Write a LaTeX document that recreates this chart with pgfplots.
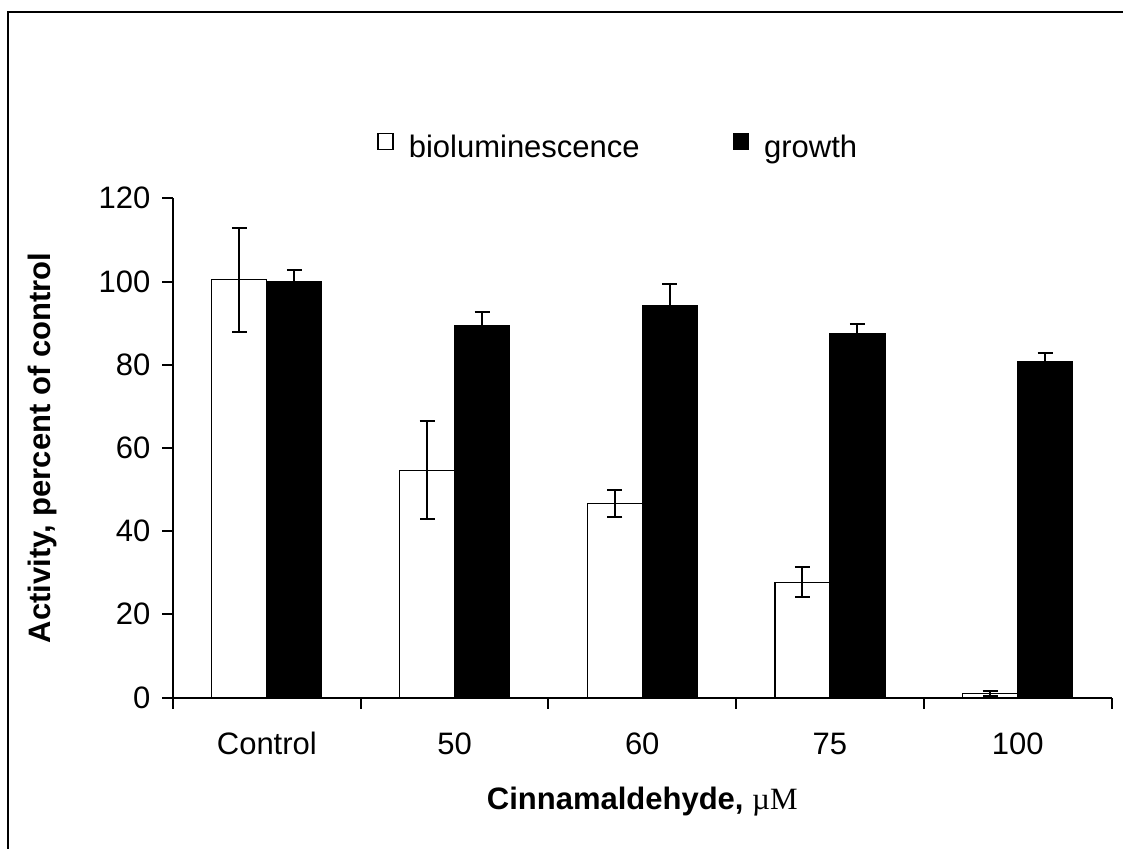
\documentclass[border=0pt]{standalone}
\usepackage{fontspec}
\setmainfont{Liberation Sans}
\newfontfamily\seriffont{Liberation Serif}
\usepackage{pgfplots}
\pgfplotsset{compat=1.18}

\begin{document}
\begin{tikzpicture}[font=\fontsize{15.5}{18}\selectfont]
\useasboundingbox (0,0) rectangle (561.5pt,424pt);
\draw[line width=1pt] (3.75pt,-20pt) -- (3.75pt,418pt) -- (600pt,418pt);
\begin{axis}[
  at={(86.5pt,75.25pt)}, anchor=south west,
  scale only axis, width=469.25pt, height=249.6pt,
  ybar=0pt, bar width=27.5pt,
  xmin=-0.5, xmax=4.5, ymin=0, ymax=120,
  axis x line*=bottom, axis y line*=left,
  axis line style={line width=1pt},
  every tick/.style={black, line width=1pt},
  tick align=outside, major tick length=5.5pt,
  xtick={-0.5,0.5,1.5,2.5,3.5,4.5}, xticklabels={},
  extra x ticks={0,1,2,3,4},
  extra x tick labels={Control,50,60,75,100},
  extra x tick style={major tick length=0pt, tick label style={anchor=base, yshift=-28.6pt}},
  ytick={0,20,40,60,80,100,120},
  yticklabel style={anchor=east, xshift=-2.3pt},
  /pgf/number format/assume math mode=true,
  ylabel={\bfseries Activity, percent of control},
  ylabel style={at={(axis description cs:-0.131,0.5)}, anchor=base},
  xlabel={\bfseries Cinnamaldehyde, \seriffont\mdseries µM},
  xlabel style={at={(axis description cs:0.5,-0.2248)}, anchor=base},
  legend style={draw=none, fill=none, legend columns=2,
    at={(axis description cs:0.2110,1.102)}, anchor=west,
    /tikz/every odd column/.append style={column sep=5.5pt},
    /tikz/every even column/.append style={column sep=44.5pt}},
  legend image code/.code={\draw[#1,line width=0.7pt] (0pt,-1pt) rectangle (7.5pt,7pt);},
  error bars/error bar style={line width=1pt, black},
  error bars/error mark options={rotate=90, mark size=3.75pt, line width=1pt, black},
]
\addplot[draw=black, fill=white, line width=0.6pt,
  error bars/.cd, y dir=both, y explicit]
  coordinates {
    (0,100.4) +- (0,12.5)
    (1,54.6) +- (0,11.75)
    (2,46.6) +- (0,3.2)
    (3,27.7) +- (0,3.6)
    (4,0.9) +- (0,0.6)
  };
\addlegendentry{bioluminescence}
\addplot[draw=black, fill=black, line width=0.6pt,
  error bars/.cd, y dir=both, y explicit]
  coordinates {
    (0,99.95) +- (0,2.85)
    (1,89.3) +- (0,3.4)
    (2,94.3) +- (0,5.1)
    (3,87.4) +- (0,2.5)
    (4,80.7) +- (0,2.0)
  };
\addlegendentry{growth}
\end{axis}
\end{tikzpicture}
\end{document}
